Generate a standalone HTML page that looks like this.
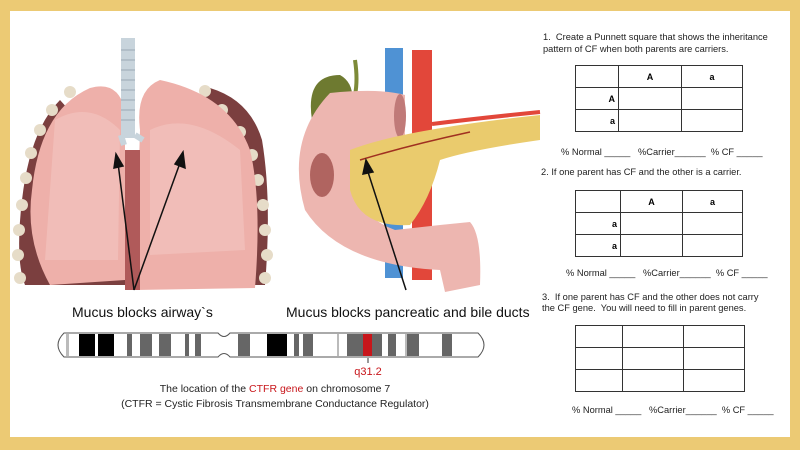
<!DOCTYPE html>
<html><head><style>
body{margin:0;width:800px;height:450px;background:#ecca74;overflow:hidden;font-family:"Liberation Sans",sans-serif}
#w{position:absolute;left:10px;top:11px;width:780px;height:426px;background:#fff}
.t{position:absolute;font-size:9.3px;color:#222;white-space:nowrap}
table{position:absolute;border-collapse:collapse}
td{border:1px solid #333;font-size:9px;font-weight:bold;text-align:center;padding:0;height:21px}
</style></head><body>
<div id="w"></div>
<svg width="800" height="450" style="position:absolute;left:0;top:0">
<!-- lungs -->
<path d="M60,100 Q30,130 22,200 Q15,260 25,285 L265,285 Q272,200 262,140 Q250,100 210,88 L150,150 L105,150 Z" fill="#7b3f3f"/>
<g fill="#e6dcc8"><circle cx="70" cy="92" r="6"/><circle cx="52" cy="110" r="6"/><circle cx="40" cy="130" r="6"/><circle cx="31" cy="153" r="6"/><circle cx="26" cy="178" r="6"/><circle cx="22" cy="205" r="6"/><circle cx="19" cy="230" r="6"/><circle cx="18" cy="255" r="6"/><circle cx="20" cy="278" r="6"/><circle cx="205" cy="91" r="6"/><circle cx="222" cy="110" r="6"/><circle cx="240" cy="132" r="6"/><circle cx="252" cy="155" r="6"/><circle cx="258" cy="180" r="6"/><circle cx="263" cy="205" r="6"/><circle cx="265" cy="230" r="6"/><circle cx="267" cy="255" r="6"/><circle cx="265" cy="278" r="6"/></g>
<path d="M90,88 Q118,80 125,110 L125,280 L50,285 Q25,240 32,190 Q40,110 90,88Z" fill="#eeb0aa"/>
<path d="M160,80 Q135,90 140,130 L135,290 L255,288 Q262,200 250,150 Q230,95 160,80Z" fill="#eeb0aa"/>
<path d="M125,150 L140,150 L140,290 L125,290Z" fill="#b05a5a"/>
<path d="M55,120 Q90,100 120,130 L118,260 L45,260Z M150,130 Q190,110 240,150 L245,250 L150,255Z" fill="#f2c3bd" opacity=".7"/>
<rect x="121" y="38" width="14" height="100" fill="#c8d4dc"/>
<g stroke="#9aa9b3"><line x1="121" y1="50" x2="135" y2="50"/><line x1="121" y1="60" x2="135" y2="60"/><line x1="121" y1="70" x2="135" y2="70"/><line x1="121" y1="80" x2="135" y2="80"/><line x1="121" y1="90" x2="135" y2="90"/><line x1="121" y1="100" x2="135" y2="100"/><line x1="121" y1="110" x2="135" y2="110"/><line x1="121" y1="120" x2="135" y2="120"/></g>
<path d="M121,135 L124,145 M135,135 L143,140" stroke="#c8d4dc" stroke-width="6"/>
<g stroke="#111" stroke-width="1.5" fill="#111"><line x1="134" y1="290" x2="118" y2="163"/><line x1="134" y1="290" x2="180" y2="163"/><path d="M114,168 L116,154 L123,166Z"/><path d="M175,164 L183,152 L185,168Z"/></g>
<!-- pancreas area -->
<path d="M355,60 Q358,80 355,95" stroke="#7d8a38" stroke-width="4" fill="none"/>
<path d="M312,120 Q305,75 340,75 Q358,85 350,115 Q335,135 312,120Z" fill="#6e7a30"/>
<rect x="385" y="48" width="18" height="230" fill="#4f92d4"/>
<rect x="412" y="50" width="20" height="230" fill="#e2473a"/>
<path d="M432,124 Q480,118 540,112" stroke="#e2473a" stroke-width="4" fill="none"/>
<path d="M330,93 Q380,88 405,95 L405,140 Q360,145 352,175 Q355,215 395,230 L440,225 L470,222 Q482,235 480,285 L445,292 L440,270 Q340,265 305,210 Q285,140 330,93Z" fill="#edb6b0"/>
<ellipse cx="400" cy="116" rx="6" ry="22" fill="#c07a78"/>
<path d="M350,150 Q400,130 540,115 L540,140 Q470,150 440,160 Q430,200 410,225 Q360,228 350,190Z" fill="#eacb6d"/>
<ellipse cx="322" cy="175" rx="12" ry="22" fill="#b06460"/>
<path d="M360,160 Q410,145 470,132" stroke="#a03020" stroke-width="1.5" fill="none"/>
<g stroke="#111" stroke-width="1.5" fill="#111"><line x1="406" y1="290" x2="368" y2="172"/><path d="M363,174 L366,160 L373,172Z"/></g>
<text x="72" y="317" font-size="14" fill="#111">Mucus blocks airway`s</text>
<text x="286" y="317" font-size="14" fill="#111">Mucus blocks pancreatic and bile ducts</text>
<!-- chromosome -->
<path d="M64,333 L218,333 Q224,340 230,333 L478,333 Q490,345 478,357 L230,357 Q224,350 218,357 L64,357 Q52,345 64,333Z" fill="#fff" stroke="#555"/>
<g fill="#000"><rect x="79" y="334" width="16" height="22"/><rect x="98" y="334" width="16" height="22"/><rect x="267" y="334" width="20" height="22"/></g>
<g fill="#666"><rect x="127" y="334" width="5" height="22"/><rect x="140" y="334" width="12" height="22"/><rect x="159" y="334" width="12" height="22"/><rect x="185" y="334" width="4" height="22"/><rect x="195" y="334" width="6" height="22"/><rect x="238" y="334" width="12" height="22"/><rect x="294" y="334" width="5" height="22"/><rect x="303" y="334" width="10" height="22"/><rect x="347" y="334" width="16" height="22"/><rect x="372" y="334" width="10" height="22"/><rect x="388" y="334" width="8" height="22"/><rect x="407" y="334" width="12" height="22"/><rect x="442" y="334" width="10" height="22"/></g>
<g fill="#bbb"><rect x="66" y="334" width="3" height="22"/><rect x="337" y="334" width="2" height="22"/><rect x="405" y="334" width="2" height="22"/></g>
<rect x="363" y="334" width="9" height="22" fill="#c8161b"/>
<line x1="368" y1="358" x2="368" y2="363" stroke="#333"/>
<text x="368" y="375" font-size="11" fill="#c8161b" text-anchor="middle">q31.2</text>
<text x="275" y="392" font-size="10.5" fill="#222" text-anchor="middle">The location of the <tspan fill="#c8161b">CTFR gene</tspan> on chromosome 7</text>
<text x="275" y="407" font-size="10.5" fill="#222" text-anchor="middle">(CTFR = Cystic Fibrosis Transmembrane Conductance Regulator)</text>
</svg>
<div class="t" style="left:543px;top:32px">1.&nbsp; Create a Punnett square that shows the inheritance</div>
<div class="t" style="left:543px;top:44px">pattern of CF when both parents are carriers.</div>
<table style="left:575px;top:65px;width:168px"><tr><td style="width:42px"></td><td style="width:62px">A</td><td>a</td></tr><tr><td style="text-align:right;padding-right:3px">A</td><td></td><td></td></tr><tr><td style="text-align:right;padding-right:3px">a</td><td></td><td></td></tr></table>
<div class="t" style="left:561px;top:147px">% Normal _____&nbsp;&nbsp; %Carrier______&nbsp; % CF _____</div>
<div class="t" style="left:541px;top:167px">2. If one parent has CF and the other is a carrier.</div>
<table style="left:575px;top:190px;width:168px"><tr><td style="width:44px"></td><td style="width:61px">A</td><td>a</td></tr><tr><td style="text-align:right;padding-right:3px">a</td><td></td><td></td></tr><tr><td style="text-align:right;padding-right:3px">a</td><td></td><td></td></tr></table>
<div class="t" style="left:566px;top:268px">% Normal _____&nbsp;&nbsp; %Carrier______&nbsp; % CF _____</div>
<div class="t" style="left:542px;top:292px">3.&nbsp; If one parent has CF and the other does not carry</div>
<div class="t" style="left:542px;top:303px">the CF gene.&nbsp; You will need to fill in parent genes.</div>
<table style="left:575px;top:325px;width:170px"><tr><td style="width:46px"></td><td style="width:60px"></td><td></td></tr><tr><td></td><td></td><td></td></tr><tr><td></td><td></td><td></td></tr></table>
<div class="t" style="left:572px;top:405px">% Normal _____&nbsp;&nbsp; %Carrier______&nbsp; % CF _____</div>
</body></html>
